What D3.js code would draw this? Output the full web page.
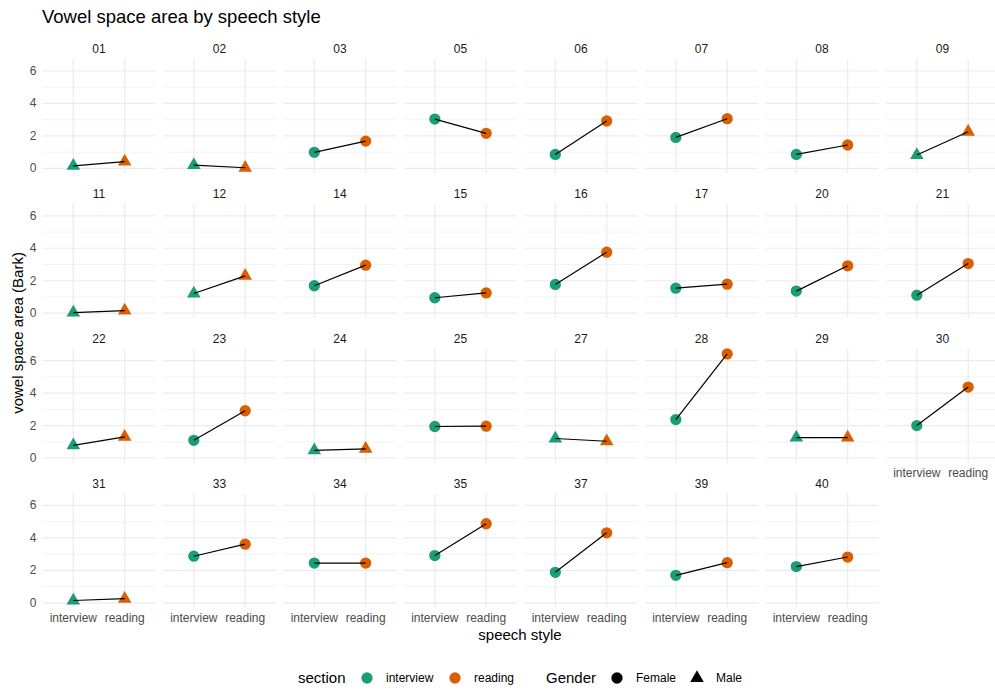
<!DOCTYPE html>
<html>
<head>
<meta charset="utf-8">
<script src="https://cdn.jsdelivr.net/npm/d3@7"></script>
<style>
body { margin:0; background:#fff; }
svg text { font-family:"Liberation Sans", Arial, sans-serif; }
.tick-label { fill:#4d4d4d; font-size:12px; }
.strip { fill:#1a1a1a; font-size:12px; }
.axis-title { fill:#000; font-size:15px; }
.title { fill:#000; font-size:18.5px; }
.legend-text { fill:#000; font-size:12px; }
</style>
</head>
<body>
<svg id="vowels"></svg>
<script>
//values
var speakers = ["01","02","03","05","06","07","08","09",
                "11","12","14","15","16","17","20","21",
                "22","23","24","25","27","28","29","30",
                "31","33","34","35","37","39","40"];
var genders = ["Male","Male","Female","Female","Female","Female","Female","Male",
               "Male","Male","Female","Female","Female","Female","Female","Female",
               "Male","Female","Male","Female","Male","Female","Male","Female",
               "Male","Female","Female","Female","Female","Female","Female"];
var interviewValues = [0.15,0.20,0.99,3.04,0.86,1.91,0.86,0.82,
                       0.04,1.21,1.69,0.95,1.77,1.54,1.36,1.11,
                       0.78,1.09,0.47,1.94,1.20,2.37,1.26,2.00,
                       0.14,2.87,2.45,2.91,1.88,1.69,2.23];
var readingValues = [0.42,0.04,1.68,2.16,2.92,3.06,1.44,2.26,
                     0.16,2.30,2.96,1.25,3.76,1.79,2.92,3.06,
                     1.30,2.91,0.56,1.96,1.03,6.41,1.26,4.37,
                     0.25,3.61,2.45,4.87,4.31,2.47,2.82];
var styles = ["interview","reading"];
var genderLevels = ["Female","Male"];
var yTicks = [0,2,4,6];
var yMinorTicks = [1,3,5];

var sectionColor = d3.scaleOrdinal().domain(styles).range(["#1b9e77","#d95f02"]);
var genderShape = d3.scaleOrdinal().domain(genderLevels).range([d3.symbolCircle,d3.symbolTriangle]);
var genderSize = d3.scaleOrdinal().domain(genderLevels).range([100,80]);

var makeTranslateString = function(x,y)
{
    return "translate("+x+","+y+")";
}

//one small panel per speaker
var drawPanel = function(target,i,xScale,yScale,panel,showX)
{
    var g = target.append("g")
        .attr("transform",makeTranslateString(panel.left+(i%panel.cols)*panel.colStep,
                                              panel.top+Math.floor(i/panel.cols)*panel.rowStep))

    g.selectAll(".minor")
        .data(yMinorTicks)
        .enter()
        .append("line")
        .attr("x1",0).attr("x2",panel.width)
        .attr("y1",function(d){return yScale(d)})
        .attr("y2",function(d){return yScale(d)})
        .attr("stroke","#ebebeb").attr("stroke-width",0.6)
    g.selectAll(".major")
        .data(yTicks)
        .enter()
        .append("line")
        .attr("x1",0).attr("x2",panel.width)
        .attr("y1",function(d){return yScale(d)})
        .attr("y2",function(d){return yScale(d)})
        .attr("stroke","#ebebeb").attr("stroke-width",1.2)
    g.selectAll(".vert")
        .data(styles)
        .enter()
        .append("line")
        .attr("x1",function(d){return xScale(d)})
        .attr("x2",function(d){return xScale(d)})
        .attr("y1",0).attr("y2",panel.height)
        .attr("stroke","#ebebeb").attr("stroke-width",1.2)

    g.append("text")
        .text(speakers[i])
        .classed("strip",true)
        .attr("text-anchor","middle")
        .attr("x",panel.width/2)
        .attr("y",-6)

    var pts = [
        {style:"interview",value:interviewValues[i]},
        {style:"reading",value:readingValues[i]}
    ];

    g.selectAll("path.pt")
        .data(pts)
        .enter()
        .append("path")
        .classed("pt",true)
        .attr("d",d3.symbol().type(genderShape(genders[i])).size(genderSize(genders[i])))
        .attr("fill",function(d){return sectionColor(d.style)})
        .attr("transform",function(d){return makeTranslateString(xScale(d.style),yScale(d.value))})

    var line = d3.line()
        .x(function(d){return xScale(d.style)})
        .y(function(d){return yScale(d.value)})
    g.append("path")
        .attr("d",line(pts))
        .attr("fill","none")
        .attr("stroke","#000")
        .attr("stroke-width",1.2)

    if (i%panel.cols==0)
    {
        g.selectAll(".ylab")
            .data(yTicks)
            .enter()
            .append("text")
            .text(function(d){return d})
            .classed("tick-label",true)
            .attr("text-anchor","end")
            .attr("x",-6)
            .attr("y",function(d){return yScale(d)+4})
    }
    if (showX)
    {
        g.selectAll(".xlab")
            .data(styles)
            .enter()
            .append("text")
            .text(function(d){return d})
            .classed("tick-label",true)
            .attr("text-anchor","middle")
            .attr("x",function(d){return xScale(d)})
            .attr("y",panel.height+15)
    }
}

var drawLabels = function(svg,panel)
{
    svg.append("text")
        .text("Vowel space area by speech style")
        .classed("title",true)
        .attr("x",42)
        .attr("y",23)

    svg.append("text")
        .text("speech style")
        .classed("axis-title",true)
        .attr("text-anchor","middle")
        .attr("x",520)
        .attr("y",640)

    svg.append("text")
        .text("vowel space area (Bark)")
        .classed("axis-title",true)
        .attr("text-anchor","middle")
        .attr("transform","translate(23,333) rotate(270)")
}

var drawLegend = function(svg)
{
    var cy = 678;
    var legend = svg.append("g").classed("legend",true)

    legend.append("text").text("section").classed("axis-title",true)
        .attr("x",298).attr("y",cy+5)
    var sec = legend.selectAll(".sec")
        .data(styles)
        .enter()
        .append("g")
        .attr("transform",function(d,i){return makeTranslateString(367+i*88,cy)})
    sec.append("path")
        .attr("d",d3.symbol().type(d3.symbolCircle).size(100))
        .attr("fill",function(d){return sectionColor(d)})
    sec.append("text").text(function(d){return d}).classed("legend-text",true)
        .attr("x",19).attr("y",4)

    legend.append("text").text("Gender").classed("axis-title",true)
        .attr("x",546).attr("y",cy+5)
    var gen = legend.selectAll(".gen")
        .data(genderLevels)
        .enter()
        .append("g")
        .attr("transform",function(d,i){return makeTranslateString(617+i*80,cy)})
    gen.append("path")
        .attr("d",function(d){return d3.symbol().type(genderShape(d)).size(genderSize(d))()})
        .attr("fill","#000")
    gen.append("text").text(function(d){return d}).classed("legend-text",true)
        .attr("x",19).attr("y",4)
}

var initGraph = function()
{
    var screen = {width:995,height:692}
    var panel = {left:42.5,top:59.2,width:113,height:113.7,
                 colStep:120.5,rowStep:144.8,cols:8}

    var svg = d3.select("#vowels")
        .attr("width",screen.width)
        .attr("height",screen.height)

    var xScale = d3.scalePoint()
        .domain(styles)
        .range([0,panel.width])
        .padding(0.6)

    var allValues = interviewValues.concat(readingValues);
    var ext = d3.extent(allValues);
    var pad = (ext[1]-ext[0])*0.05;
    var yScale = d3.scaleLinear()
        .domain([ext[0]-pad,ext[1]+pad])
        .range([panel.height,0])

    var target = svg.append("g").attr("id","panels")
    var n = speakers.length;
    speakers.forEach(function(s,i)
    {
        var below = i+panel.cols;
        drawPanel(target,i,xScale,yScale,panel,below>=n);
    })

    drawLabels(svg,panel);
    drawLegend(svg);
}

initGraph();
</script>
</body>
</html>
